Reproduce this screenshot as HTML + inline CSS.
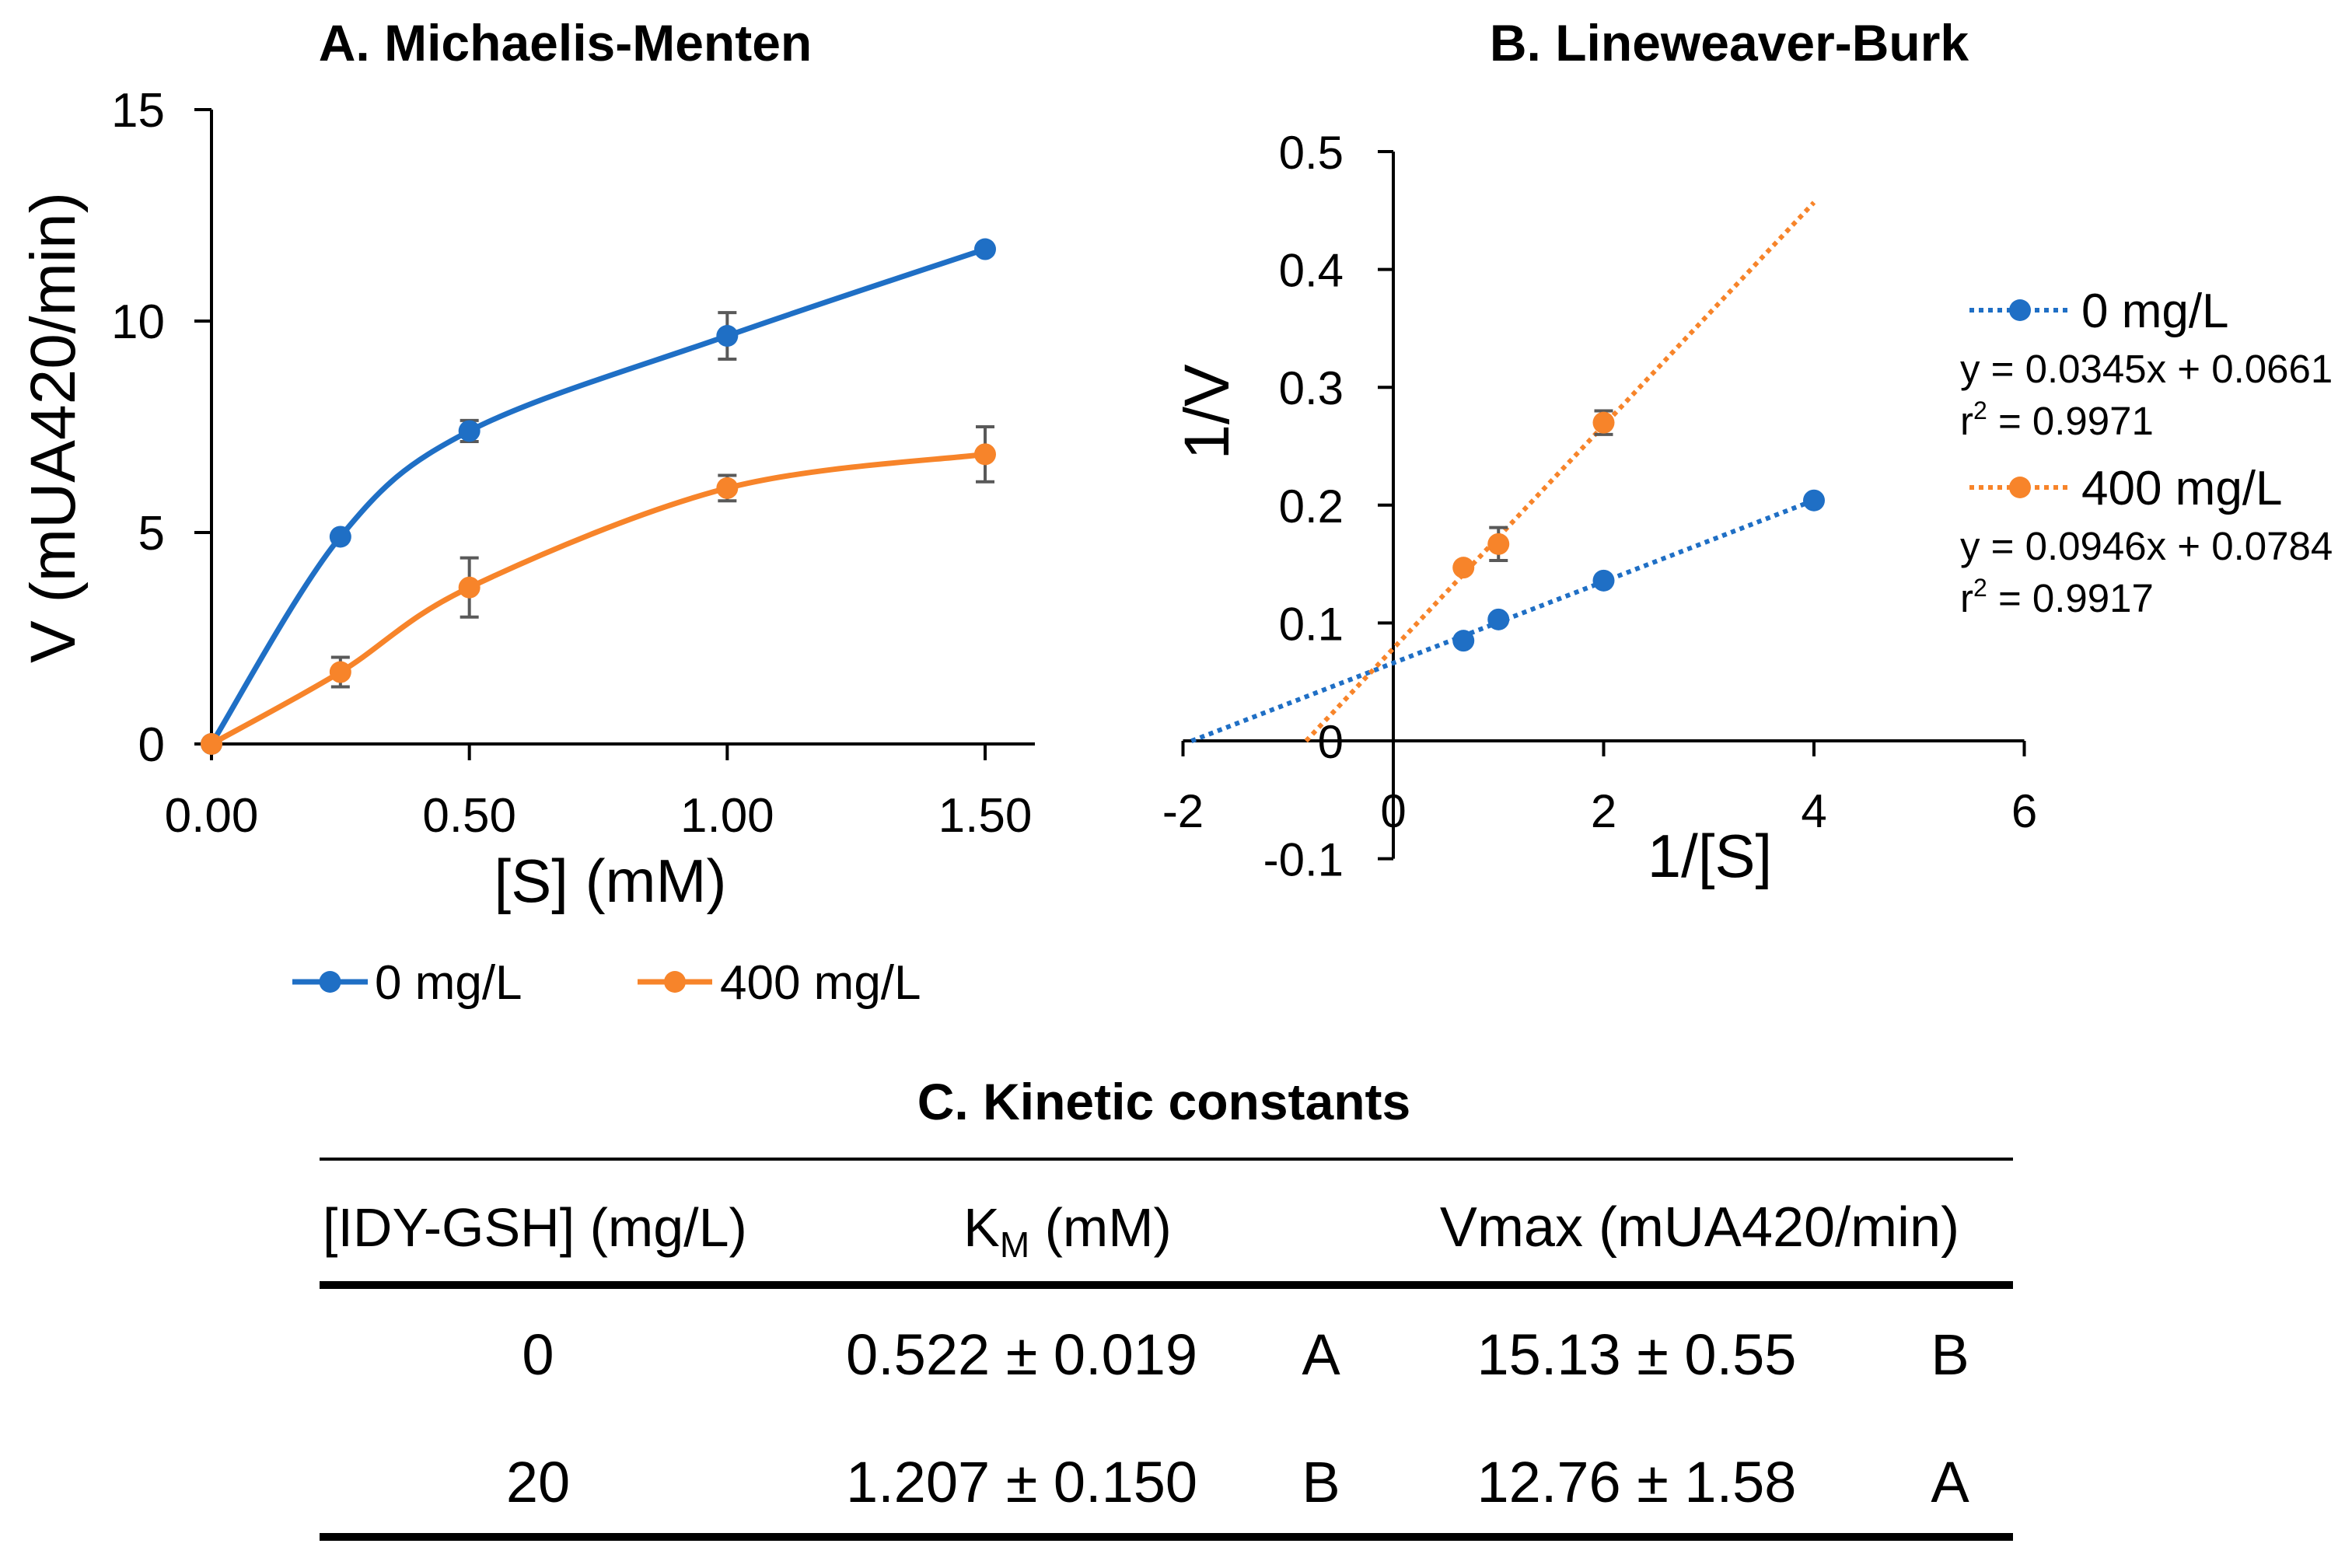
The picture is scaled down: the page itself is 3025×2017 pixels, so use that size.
<!DOCTYPE html>
<html><head><meta charset="utf-8"><style>
html,body{margin:0;padding:0;background:#fff;}
svg{display:block;font-family:"Liberation Sans",sans-serif;}
</style></head><body>
<svg id="fig" width="3025" height="2017" viewBox="0 0 3025 2017" xmlns="http://www.w3.org/2000/svg">
<g id="chartA"></g>
<g id="chartB"></g>
<g id="table">
<text x="1497" y="1440" text-anchor="middle" font-size="66" font-weight="bold">C. Kinetic constants</text>
<line x1="411" y1="1491" x2="2589" y2="1491" stroke="#000" stroke-width="4"/>
<text x="415" y="1603" font-size="70">[IDY-GSH] (mg/L)</text>
<text x="1373" y="1603" text-anchor="middle" font-size="70">K<tspan font-size="46" dy="14">M</tspan><tspan dy="-14"> (mM)</tspan></text>
<text x="2186" y="1603" text-anchor="middle" font-size="72">Vmax (mUA420/min)</text>
<line x1="411" y1="1653" x2="2589" y2="1653" stroke="#000" stroke-width="10"/>
<g font-size="74" text-anchor="middle">
<text x="692" y="1768">0</text>
<text x="1314" y="1768">0.522 ± 0.019</text>
<text x="1699" y="1768">A</text>
<text x="2105" y="1768">15.13 ± 0.55</text>
<text x="2508" y="1768">B</text>
<text x="692" y="1932">20</text>
<text x="1314" y="1932">1.207 ± 0.150</text>
<text x="1699" y="1932">B</text>
<text x="2105" y="1932">12.76 ± 1.58</text>
<text x="2508" y="1932">A</text>
</g>
<line x1="411" y1="1977" x2="2589" y2="1977" stroke="#000" stroke-width="10"/>
</g>
</svg>
<script>
// ---- Chart A data
const aS = [0, 0.25, 0.5, 1.0, 1.5];
const aV0 = [0, 4.9, 7.4, 9.65, 11.7];
const aE0 = [0, 0.1, 0.25, 0.55, 0.1];
const aV400 = [0, 1.7, 3.7, 6.05, 6.85];
const aE400 = [0, 0.35, 0.7, 0.3, 0.65];
const aXTicks = ["0.00", "0.50", "1.00", "1.50"];
const aXTickVals = [0, 0.5, 1.0, 1.5];
const aYTicks = [0, 5, 10, 15];
// ---- Chart B data
const bX = [0.667, 1, 2, 4];
const bY0 = [0.085, 0.103, 0.136, 0.204];
const bXo = [0.667, 1, 2];
const bY400 = [0.147, 0.167, 0.27];
const bE400 = [0, 0.014, 0.01];
const bSlope = [0.0345, 0.0946];
const bIntercept = [0.0661, 0.0784];
const bLineStart = [-1.92, -0.83];
const bLineEnd = [4, 4];
const bXTicks = [-2, 0, 2, 4, 6];
const bYTicks = [-0.1, 0, 0.1, 0.2, 0.3, 0.4, 0.5];

const NS = "http://www.w3.org/2000/svg";
const BLUE = "#1f6fc5", ORANGE = "#f7842a";
function mk(parent, tag, attrs, text) {
  const e = document.createElementNS(NS, tag);
  for (const k in attrs) e.setAttribute(k, attrs[k]);
  if (text !== undefined) e.textContent = text;
  parent.appendChild(e);
  return e;
}
// ---------- Chart A
const A = document.getElementById("chartA");
const ax = v => 272 + v * (1267 - 272) / 1.5;
const ay = v => 957 - v * (957 - 141) / 15;
let t = mk(A, "text", {x: 727, y: 78, "text-anchor": "middle", "font-size": 66, "font-weight": "bold"}, "A. Michaelis-Menten");


let l = mk(A, "line", {x1: 272, y1: 141, x2: 272, y2: 957, stroke: "#000", "stroke-width": 4});


l = mk(A, "line", {x1: 272, y1: 957, x2: 1331, y2: 957, stroke: "#000", "stroke-width": 4});


aYTicks.forEach(v => {
  const tk = mk(A, "line", {x1: 250, y1: ay(v), x2: 272, y2: ay(v), stroke: "#000", "stroke-width": 4});
  
  
  const tx = mk(A, "text", {x: 212, y: ay(v) + 22, "text-anchor": "end", "font-size": 62}, String(v));
  
  
});
aXTickVals.forEach((v, i) => {
  const tk = mk(A, "line", {x1: ax(v), y1: 957, x2: ax(v), y2: 978, stroke: "#000", "stroke-width": 4});
  
  
  const tx = mk(A, "text", {x: ax(v), y: 1070, "text-anchor": "middle", "font-size": 62}, aXTicks[i]);
  
  
});
t = mk(A, "text", {x: 785, y: 1160, "text-anchor": "middle", "font-size": 78}, "[S] (mM)");


t = mk(A, "text", {x: 0, y: 0, "text-anchor": "middle", "font-size": 82, transform: "translate(96,550) rotate(-90)"}, "V (mUA420/min)");


function smooth(pts) {
  let d = `M${pts[0][0]},${pts[0][1]}`;
  for (let i = 0; i < pts.length - 1; i++) {
    const p0 = pts[i - 1] || pts[i], p1 = pts[i], p2 = pts[i + 1], p3 = pts[i + 2] || p2;
    const k = 1 / 6;
    d += ` C${p1[0] + (p2[0] - p0[0]) * k},${p1[1] + (p2[1] - p0[1]) * k} ${p2[0] - (p3[0] - p1[0]) * k},${p2[1] - (p3[1] - p1[1]) * k} ${p2[0]},${p2[1]}`;
  }
  return d;
}
[[aV0, aE0, BLUE, "0"], [aV400, aE400, ORANGE, "400"]].forEach(([vals, errs, col, nm]) => {
  const pts = aS.map((s, i) => [ax(s), ay(vals[i])]);
  const p = mk(A, "path", {d: smooth(pts), fill: "none", stroke: col, "stroke-width": 7});
  
  
  aS.forEach((s, i) => {
    if (errs[i] > 0.15) {
      const g = mk(A, "path", {d: `M${ax(s)},${ay(vals[i] + errs[i])}V${ay(vals[i] - errs[i])}M${ax(s) - 12},${ay(vals[i] + errs[i])}h24M${ax(s) - 12},${ay(vals[i] - errs[i])}h24`, stroke: "#595959", "stroke-width": 4, fill: "none"});
      
      
    }
    const c = mk(A, "circle", {cx: ax(s), cy: ay(vals[i]), r: 14, fill: col});
    
    
  });
});
// legend A
[[376, 473, 482, BLUE, "0 mg/L"], [820, 916, 926, ORANGE, "400 mg/L"]].forEach(([x1, x2, tx, col, lab]) => {
  const ln = mk(A, "line", {x1, y1: 1263, x2, y2: 1263, stroke: col, "stroke-width": 7});
  
  
  const c = mk(A, "circle", {cx: (x1 + x2) / 2, cy: 1263, r: 14, fill: col});
  
  
  const tt = mk(A, "text", {x: tx, y: 1285, "font-size": 62}, lab);
  
  
});
// ---------- Chart B
const B = document.getElementById("chartB");
const bx = v => 1792 + v * (2604 - 1522) / 8;
const by = v => 953 - v * (953 - 195) / 0.5;
t = mk(B, "text", {x: 2224, y: 78, "text-anchor": "middle", "font-size": 66, "font-weight": "bold"}, "B. Lineweaver-Burk");


l = mk(B, "line", {x1: bx(0), y1: by(0.5), x2: bx(0), y2: by(-0.1), stroke: "#000", "stroke-width": 4});


l = mk(B, "line", {x1: bx(-2), y1: by(0), x2: bx(6), y2: by(0), stroke: "#000", "stroke-width": 4});


bYTicks.forEach(v => {
  const tk = mk(B, "line", {x1: bx(0) - 20, y1: by(v), x2: bx(0), y2: by(v), stroke: "#000", "stroke-width": 4});
  
  
  const tx = mk(B, "text", {x: 1728, y: by(v) + 22, "text-anchor": "end", "font-size": 60}, String(v));
  
  
});
bXTicks.forEach(v => {
  const tk = mk(B, "line", {x1: bx(v), y1: by(0), x2: bx(v), y2: by(0) + 20, stroke: "#000", "stroke-width": 4});
  
  
  const tx = mk(B, "text", {x: bx(v), y: 1064, "text-anchor": "middle", "font-size": 60}, String(v));
  
  
});
t = mk(B, "text", {x: 2199, y: 1128, "text-anchor": "middle", "font-size": 78}, "1/[S]");


t = mk(B, "text", {x: 0, y: 0, "text-anchor": "middle", "font-size": 82, transform: "translate(1580,530) rotate(-90)"}, "1/V");


const cols = [BLUE, ORANGE];
[0, 1].forEach(i => {
  const ln = mk(B, "line", {x1: bx(bLineStart[i]), y1: by(bSlope[i] * bLineStart[i] + bIntercept[i]), x2: bx(bLineEnd[i]), y2: by(bSlope[i] * bLineEnd[i] + bIntercept[i]), stroke: cols[i], "stroke-width": 6, "stroke-dasharray": "6 6"});
  
  
});
bX.forEach((x, i) => {
  const c = mk(B, "circle", {cx: bx(x), cy: by(bY0[i]), r: 14, fill: BLUE});
  
  
});
bXo.forEach((x, i) => {
  if (bE400[i] > 0) {
    const g = mk(B, "path", {d: `M${bx(x)},${by(bY400[i] + bE400[i])}V${by(bY400[i] - bE400[i])}M${bx(x) - 12},${by(bY400[i] + bE400[i])}h24M${bx(x) - 12},${by(bY400[i] - bE400[i])}h24`, stroke: "#595959", "stroke-width": 4, fill: "none"});
    
    
  }
  const c = mk(B, "circle", {cx: bx(x), cy: by(bY400[i]), r: 14, fill: ORANGE});
  
  
});
// legend B
[[399, BLUE, "0 mg/L", "y = 0.0345x + 0.0661", "0.9971"], [627, ORANGE, "400 mg/L", "y = 0.0946x + 0.0784", "0.9917"]].forEach(([y, col, lab, eq, r2]) => {
  const ln = mk(B, "line", {x1: 2533, y1: y, x2: 2662, y2: y, stroke: col, "stroke-width": 6, "stroke-dasharray": "6 6"});
  
  
  const c = mk(B, "circle", {cx: 2598, cy: y, r: 14, fill: col});
  
  
  const tt = mk(B, "text", {x: 2677, y: y + 22, "font-size": 62}, lab);
  
  
  const e = mk(B, "text", {x: 2521, y: y + 93, "font-size": 51}, eq);
  
  
  const r = mk(B, "text", {x: 2521, y: y + 160, "font-size": 51});
  
  
  r.innerHTML = 'r<tspan font-size="32" dy="-20">2</tspan><tspan dy="20"> = ' + r2 + '</tspan>';
});
</script>
</body></html>
